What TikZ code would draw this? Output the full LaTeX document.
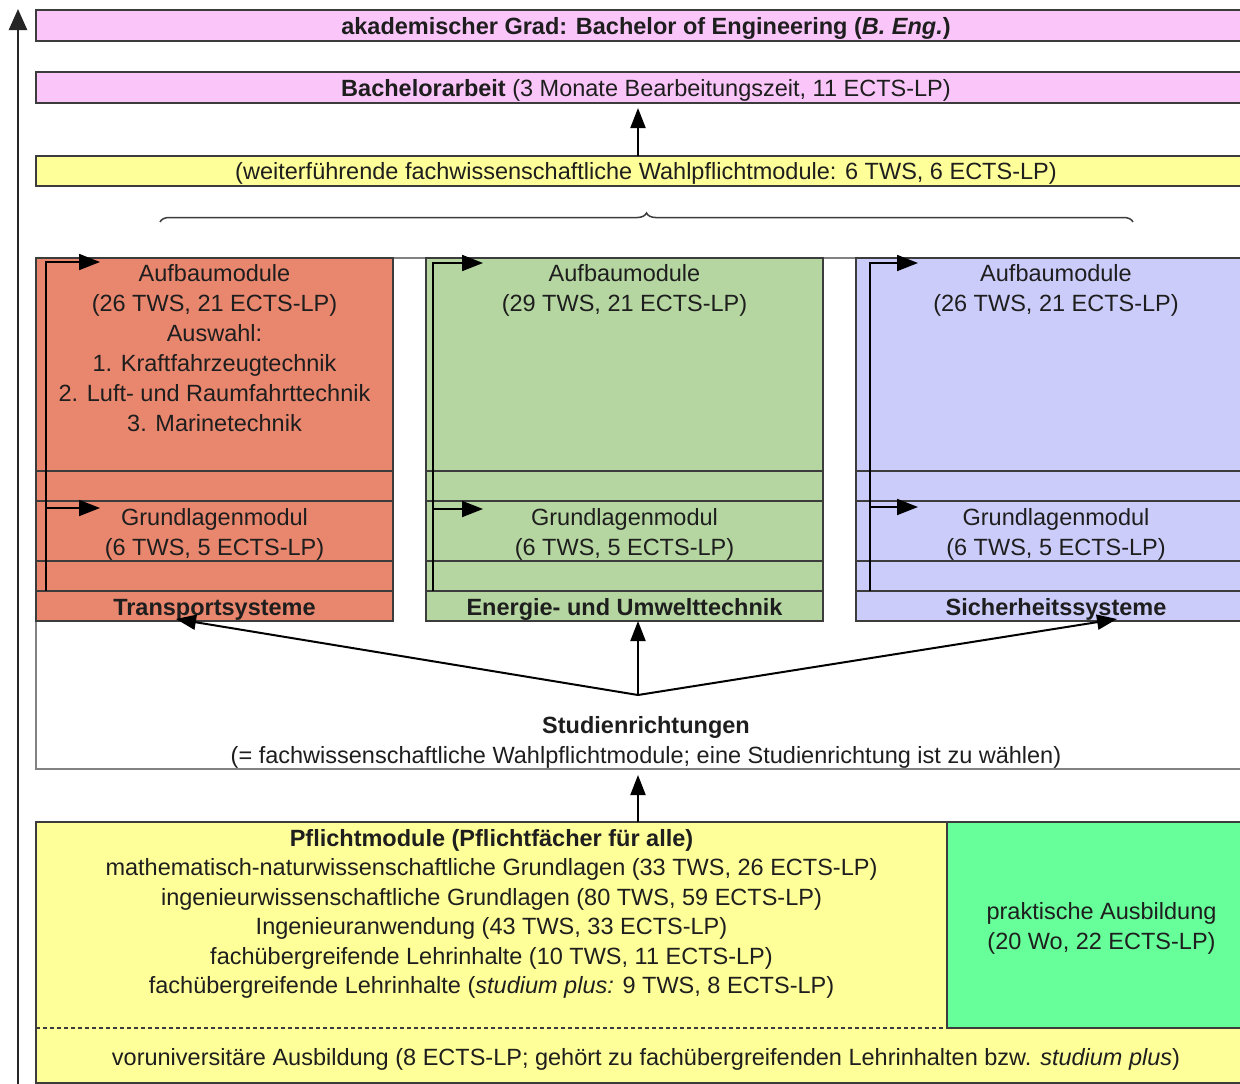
\documentclass[tikz,border=0pt]{standalone}
\usepackage{fontspec}
\setmainfont{Liberation Sans}
\usetikzlibrary{arrows.meta,decorations.pathreplacing}
\definecolor{pinkc}{RGB}{250,198,250}
\definecolor{yellowc}{RGB}{255,255,153}
\definecolor{redc}{RGB}{233,134,110}
\definecolor{greenc}{RGB}{181,214,160}
\definecolor{bluec}{RGB}{204,204,250}
\definecolor{pgreen}{RGB}{102,255,153}
\definecolor{boxline}{RGB}{60,60,60}
\definecolor{framec}{RGB}{130,130,130}
\definecolor{txt}{RGB}{30,30,30}
\newcommand\fs{\fontsize{23.5}{30}\selectfont}
\begin{document}
\begin{tikzpicture}[x=1pt,y=-1pt,
  box/.style={draw=boxline, line width=1.2pt, inner sep=0pt, outer sep=0pt, anchor=north west},
  txtn/.style={inner sep=0pt, font=\fs, text=txt, align=center},
  arr/.style={line width=2pt, draw=black, -{Triangle[length=20pt,width=15pt]}},
  inarr/.style={line width=1.8pt, draw=black, -{Triangle[length=21pt,width=16pt]}}]
\useasboundingbox (0,0) rectangle (1240,1084);
\clip (0,0) rectangle (1240,1084);
\fill[white] (0,0) rectangle (1240,1084);

% top boxes
\node[box, fill=pinkc, minimum width=1220pt, minimum height=31pt] (grad) at (36,10) {};
\node[txtn] (gradt) at ([yshift=-2.5pt]grad.center) {\bfseries akademischer Grad: Bachelor of Engineering (\textit{B. Eng.})};
\node[box, fill=pinkc, minimum width=1220pt, minimum height=31pt] (ba) at (36,72) {};
\node[txtn] (bat0) at ([yshift=-2.5pt]ba.center) {\textbf{Bachelorarbeit} (3 Monate Bearbeitungszeit, 11 ECTS-LP)};
\node[box, fill=yellowc, minimum width=1220pt, minimum height=30pt] (wf) at (36,156) {};
\node[txtn] (wft) at ([yshift=-2.5pt]wf.center) {(weiterführende fachwissenschaftliche Wahlpflichtmodule: 6 TWS, 6 ECTS-LP)};

% brace
\coordinate (bl) at (160,222);
\coordinate (br) at (1133,222);
\draw[draw=boxline, line width=1.5pt, decorate, decoration={brace, amplitude=9pt}] (bl) -- (br);

% Studienrichtungen frame
\node[box, draw=framec, fill=white, minimum width=1220pt, minimum height=511pt] (frame) at (36,258) {};

% red column
\node[box, fill=redc, minimum width=357pt, minimum height=213pt] (ra) at (36,258) {};
\node[box, fill=redc, minimum width=357pt, minimum height=30pt] (rg1) at (36,471) {};
\node[box, fill=redc, minimum width=357pt, minimum height=60pt] (rg) at (36,501) {};
\node[box, fill=redc, minimum width=357pt, minimum height=30pt] (rg2) at (36,561) {};
\node[box, fill=redc, minimum width=357pt, minimum height=30pt] (rt) at (36,591) {};
\node[txtn] (rgt) at ([yshift=-3pt]rg.center) {Grundlagenmodul\\(6 TWS, 5 ECTS-LP)};
\node[txtn] (rtt) at ([yshift=-3.5pt]rt.center) {\bfseries Transportsysteme};
\node[txtn, anchor=north] (rat) at (214.5,264.5) {Aufbaumodule\\(26 TWS, 21 ECTS-LP)\\Auswahl:\\1. Kraftfahrzeugtechnik\\2. Luft- und Raumfahrttechnik\\3. Marinetechnik};

% green column
\node[box, fill=greenc, minimum width=397pt, minimum height=213pt] (ga) at (426,258) {};
\node[box, fill=greenc, minimum width=397pt, minimum height=30pt] (gg1) at (426,471) {};
\node[box, fill=greenc, minimum width=397pt, minimum height=60pt] (gg) at (426,501) {};
\node[box, fill=greenc, minimum width=397pt, minimum height=30pt] (gg2) at (426,561) {};
\node[box, fill=greenc, minimum width=397pt, minimum height=30pt] (gt) at (426,591) {};
\node[txtn] (ggt) at ([yshift=-3pt]gg.center) {Grundlagenmodul\\(6 TWS, 5 ECTS-LP)};
\node[txtn] (gtt) at ([yshift=-3.5pt]gt.center) {\bfseries Energie- und Umwelttechnik};
\node[txtn, anchor=north] (gat) at (624.5,264.5) {Aufbaumodule\\(29 TWS, 21 ECTS-LP)};

% blue column
\node[box, fill=bluec, minimum width=400pt, minimum height=213pt] (bla) at (856,258) {};
\node[box, fill=bluec, minimum width=400pt, minimum height=30pt] (bg1) at (856,471) {};
\node[box, fill=bluec, minimum width=400pt, minimum height=60pt] (bg) at (856,501) {};
\node[box, fill=bluec, minimum width=400pt, minimum height=30pt] (bg2) at (856,561) {};
\node[box, fill=bluec, minimum width=400pt, minimum height=30pt] (bt) at (856,591) {};
\node[txtn] (bgt) at ([yshift=-3pt]bg.center) {Grundlagenmodul\\(6 TWS, 5 ECTS-LP)};
\node[txtn] (btt) at ([yshift=-3.5pt]bt.center) {\bfseries Sicherheitssysteme};
\node[txtn, anchor=north] (bat) at (1056,264.5) {Aufbaumodule\\(26 TWS, 21 ECTS-LP)};

% inner arrows
\draw[inarr] ([xshift=10pt]rt.north west) |- ([xshift=64pt,yshift=-4pt]ra.north west);
\draw[inarr] ([xshift=10pt,yshift=-7pt]rg.north west) -- ([xshift=64pt,yshift=-7pt]rg.north west);
\draw[inarr] ([xshift=7pt]gt.north west) |- ([xshift=57pt,yshift=-5pt]ga.north west);
\draw[inarr] ([xshift=7pt,yshift=-8pt]gg.north west) -- ([xshift=57pt,yshift=-8pt]gg.north west);
\draw[inarr] ([xshift=14pt]bt.north west) |- ([xshift=62pt,yshift=-5pt]bla.north west);
\draw[inarr] ([xshift=14pt,yshift=-6pt]bg.north west) -- ([xshift=62pt,yshift=-6pt]bg.north west);

% hub arrows
\coordinate (hub) at (638,695);
\draw[arr] (hub) -- ([xshift=-38.5pt,yshift=2pt]rt.south);
\draw[arr] (hub) -- (gt.south -| hub);
\draw[arr] (hub) -- ([xshift=61pt,yshift=2pt]bt.south);

\node[txtn] (sr) at (646,742) {\textbf{Studienrichtungen}\\(= fachwissenschaftliche Wahlpflichtmodule; eine Studienrichtung ist zu wählen)};

% top arrow
\draw[arr, shorten >=5pt] (wf.north -| hub) -- (ba.south -| hub);

% bottom
\node[box, fill=yellowc, minimum width=1220pt, minimum height=261pt] (pm) at (36,822) {};
\node[box, fill=pgreen, minimum width=309pt, minimum height=206pt] (prak) at (947,822) {};
\node[txtn] (prakt) at ([yshift=-3.5pt]prak.center) {praktische Ausbildung\\(20 Wo, 22 ECTS-LP)};
\draw[draw=boxline, line width=1.1pt, dash pattern=on 4pt off 3pt] (prak.south -| pm.west) -- (prak.south -| pm.east);
\node[txtn, font=\fontsize{23.5}{29.4}\selectfont] (pmt) at (491.5,914) {\textbf{Pflichtmodule (Pflichtfächer für alle)}\\mathematisch-naturwissenschaftliche Grundlagen (33 TWS, 26 ECTS-LP)\\ingenieurwissenschaftliche Grundlagen (80 TWS, 59 ECTS-LP)\\Ingenieuranwendung (43 TWS, 33 ECTS-LP)\\fachübergreifende Lehrinhalte (10 TWS, 11 ECTS-LP)\\fachübergreifende Lehrinhalte (\textit{studium plus:} 9 TWS, 8 ECTS-LP)};
\node[txtn] (vor) at (646,1059) {voruniversitäre Ausbildung (8 ECTS-LP; gehört zu fachübergreifenden Lehrinhalten bzw. \textit{studium plus})};

\draw[arr, shorten >=6pt] (pm.north -| hub) -- (frame.south -| hub);

% left progress arrow
\coordinate (la0) at (18,1090);
\coordinate (la1) at (18,9);
\draw[line width=2.5pt, draw=black!85, -{Triangle[length=21pt,width=18pt]}] (la0) -- (la1);
\end{tikzpicture}
\end{document}
